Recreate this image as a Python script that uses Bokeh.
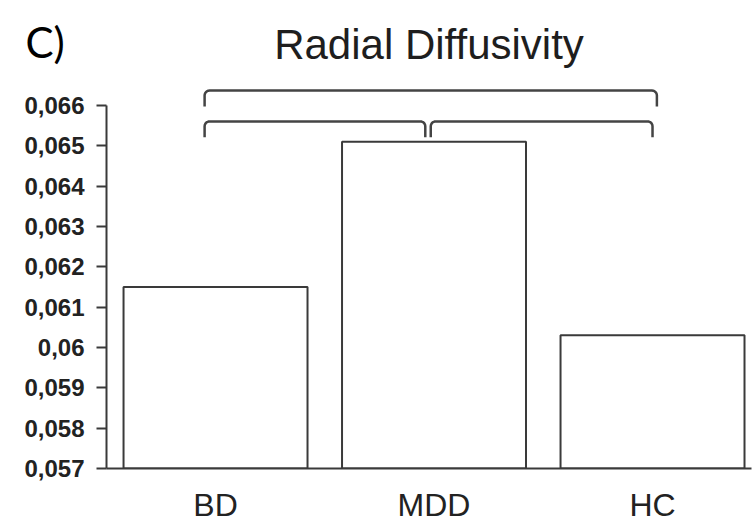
import math
from bokeh.plotting import figure
from bokeh.models import Range1d, FixedTicker, Title
from bokeh.embed import file_html
from bokeh.resources import INLINE

# ---- data ----
categories = ["BD", "MDD", "HC"]
values = [0.0615, 0.0651, 0.0603]
y_ticks = [0.057, 0.058, 0.059, 0.060, 0.061, 0.062, 0.063, 0.064, 0.065, 0.066]
y_tick_labels = ["0,057", "0,058", "0,059", "0,06", "0,061", "0,062",
                 "0,063", "0,064", "0,065", "0,066"]
# significant comparisons: (group a, group b, bracket level)
comparisons = [(0, 2, 2), (0, 1, 1), (1, 2, 1)]

xs = list(range(len(categories)))
y_min, y_max = 0.057, 0.066618
x_lo, x_hi = -0.499, 2.453

W, H = 755, 525
BL, BR, BT, BB = 106, 4, 80, 56
p = figure(width=W, height=H, output_backend="svg", toolbar_location=None,
           x_range=Range1d(x_lo, x_hi), y_range=Range1d(y_min, y_max),
           min_border_left=BL, min_border_right=BR, min_border_top=BT,
           min_border_bottom=BB, background_fill_color="white",
           border_fill_color="white", outline_line_color=None,
           title="C)")
# panel letter (outer title row, pulled down beside the chart title)
p.title.align = "left"
p.title.offset = -81
p.title.standoff = -120
p.title.text_font = "Lato"
p.title.text_font_size = "42px"
p.title.text_font_style = "normal"
p.title.text_color = "#000000"

main_title = Title(text="Radial Diffusivity", align="center", standoff=25,
                   text_font="Liberation Sans", text_font_size="42px",
                   text_font_style="normal", text_color="#1e1e1e")
p.add_layout(main_title, "above")

p.xgrid.visible = False
p.ygrid.visible = False

line_col = "#3a3a3a"
p.vbar(x=xs, top=values, bottom=y_min, width=0.842, fill_color="white",
       line_color=line_col, line_width=2)

# y axis
ya = p.yaxis[0]
ya.ticker = FixedTicker(ticks=y_ticks)
ya.bounds = (y_ticks[0], y_ticks[-1])
ya.major_label_overrides = {t: l for t, l in zip(y_ticks, y_tick_labels)}
ya.major_tick_out = 10
ya.major_tick_in = 0
ya.minor_tick_line_color = None
ya.axis_line_width = 2
ya.axis_line_color = line_col
ya.major_tick_line_width = 2
ya.major_tick_line_color = line_col
ya.major_label_text_font = "Liberation Sans"
ya.major_label_text_font_style = "bold"
ya.major_label_text_font_size = "24px"
ya.major_label_text_color = "#222222"
ya.major_label_standoff = 12

# x axis
xa = p.xaxis[0]
xa.ticker = FixedTicker(ticks=xs)
xa.major_label_overrides = {i: c for i, c in zip(xs, categories)}
xa.major_tick_line_color = None
xa.minor_tick_line_color = None
xa.axis_line_width = 2
xa.axis_line_color = line_col
xa.major_label_text_font = "Liberation Sans"
xa.major_label_text_font_size = "32px"
xa.major_label_text_color = "#222222"
xa.major_label_standoff = 12

# significance brackets (computed from comparisons)
px_per_x = (W - BL - BR) / (x_hi - x_lo)
px_per_y = (H - BB - BT) / (y_max - y_min)
hook = 16 / px_per_y
r = 5.0
bx, by = [], []
for a, b, lvl in comparisons:
    x0 = xs[a] + (-0.05 if a == 0 else -0.015)
    if b == 1:
        x1 = xs[b] - 0.04
    else:
        x1 = xs[b] + (0.02 if lvl == 2 else 0.0)
    yb = y_ticks[-1] + (-16 if lvl == 1 else 15) / px_per_y
    rx, ry = r / px_per_x, r / px_per_y
    pts_x, pts_y = [x0], [yb - hook]
    for k in range(7):
        t = math.pi - k * (math.pi / 2) / 6
        pts_x.append(x0 + rx + rx * math.cos(t))
        pts_y.append(yb - ry + ry * math.sin(t))
    for k in range(7):
        t = math.pi / 2 - k * (math.pi / 2) / 6
        pts_x.append(x1 - rx + rx * math.cos(t))
        pts_y.append(yb - ry + ry * math.sin(t))
    pts_x.append(x1)
    pts_y.append(yb - hook)
    bx.append(pts_x)
    by.append(pts_y)
p.multi_line(xs=bx, ys=by, line_color="#444444", line_width=2.5)

open("out.html", "w").write(file_html(p, INLINE))
